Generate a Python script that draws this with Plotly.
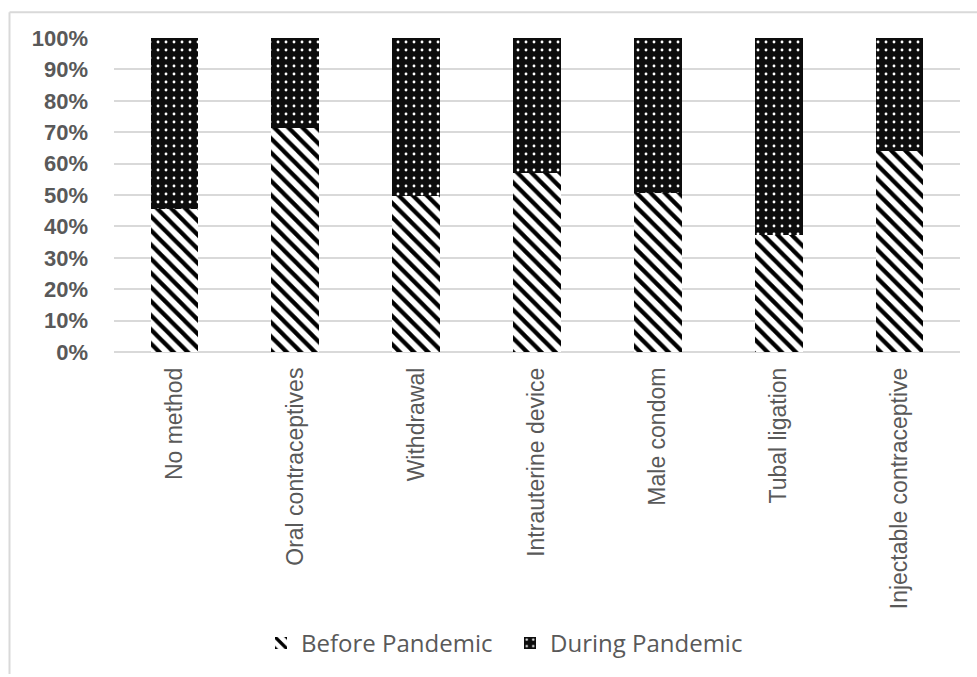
import plotly.graph_objects as go

# Contraceptive method categories and share of each period (percent)
methods = [
    "No method",
    "Oral contraceptives",
    "Withdrawal",
    "Intrauterine device",
    "Male condom",
    "Tubal ligation",
    "Injectable contraceptive",
]
before_pandemic = [45.7, 71.2, 49.6, 57.0, 50.7, 37.2, 64.0]
during_pandemic = [round(100 - v, 1) for v in before_pandemic]

y_ticks = [0, 10, 20, 30, 40, 50, 60, 70, 80, 90, 100]
y_tick_text = [f"{t}%" for t in y_ticks]

W, H = 977, 677
L, R, T, B = 114, 17, 38, 321

fig = go.Figure()

fig.add_trace(go.Bar(
    name="Before Pandemic",
    x=methods,
    y=before_pandemic,
    marker=dict(
        color="white",
        line=dict(width=0),
        pattern=dict(shape="\\", fgcolor="black", bgcolor="white",
                     fgopacity=1, size=10, solidity=0.42),
    ),
))

fig.add_trace(go.Bar(
    name="During Pandemic",
    x=methods,
    y=during_pandemic,
    marker=dict(
        color="#0d0d0d",
        line=dict(width=0),
        pattern=dict(shape=".", fgcolor="white", bgcolor="#0d0d0d",
                     fgopacity=1, size=8, solidity=0.1),
    ),
))

pw = W - L - R
ph = H - T - B


def px_to_paper_x(px):
    return (px - L) / pw


def px_to_paper_y(py):
    return (H - B - py) / ph


fig.update_layout(
    width=W,
    height=H,
    barmode="stack",
    bargap=0.605,
    margin=dict(l=L, r=R, t=T, b=B),
    paper_bgcolor="white",
    plot_bgcolor="white",
    showlegend=True,
    legend=dict(
        orientation="h",
        x=px_to_paper_x(510),
        xanchor="center",
        y=px_to_paper_y(651),
        yanchor="middle",
        font=dict(family="Open Sans", size=24, color="#595959"),
        itemwidth=30,
        entrywidth=204,
        traceorder="normal",
    ),
    xaxis=dict(
        tickangle=-90,
        tickfont=dict(family="Liberation Sans", size=23, color="#595959"),
        showgrid=False,
        showline=False,
        ticks="",
        ticklabelstandoff=10,
    ),
    yaxis=dict(
        range=[0, 100],
        tickvals=y_ticks,
        ticktext=y_tick_text,
        tickfont=dict(family="Liberation Sans", size=22, color="#595959",
                      weight="bold"),
        showgrid=True,
        gridcolor="#d9d9d9",
        gridwidth=1.5,
        zeroline=True,
        zerolinecolor="#d9d9d9",
        zerolinewidth=1.5,
        showline=False,
        ticks="",
        ticklabelstandoff=25,
    ),
    shapes=[
        # chart-area border (left and top edges)
        dict(type="line", xref="paper", yref="paper",
             x0=px_to_paper_x(9.5), x1=px_to_paper_x(9.5),
             y0=px_to_paper_y(12), y1=px_to_paper_y(H + 5),
             line=dict(color="#d9d9d9", width=2)),
        dict(type="line", xref="paper", yref="paper",
             x0=px_to_paper_x(9.5), x1=px_to_paper_x(W + 5),
             y0=px_to_paper_y(12), y1=px_to_paper_y(12),
             line=dict(color="#d9d9d9", width=2)),
    ],
)

fig.write_html("out.html")
